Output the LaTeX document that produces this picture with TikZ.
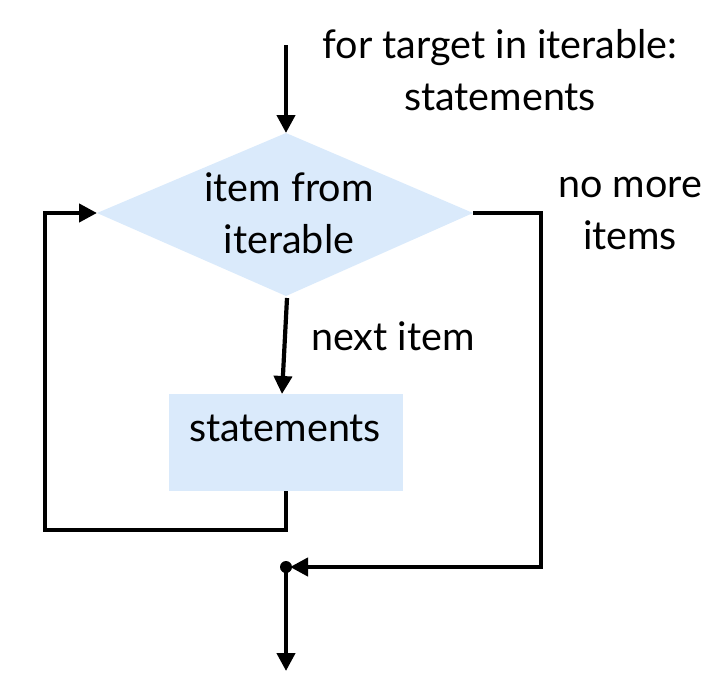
\documentclass[tikz,border=0pt]{standalone}
\usepackage{fontspec}
\setmainfont{Lato}
\usetikzlibrary{arrows.meta,shapes.geometric}
\definecolor{boxblue}{HTML}{DAEAFB}
\tikzset{
  line/.style={line width=4.2pt, line cap=butt, line join=miter},
  arr/.style={line, -{Triangle[length=18pt,width=18pt]}},
  lbl/.style={font=\fontsize{39.5}{52}\selectfont, align=center, inner sep=0pt},
}
\begin{document}
\begin{tikzpicture}[x=1pt,y=-1pt]
\useasboundingbox (0,0) rectangle (728,686);
% diamond
\fill[boxblue] (286,133) -- (473,213) -- (286,296) -- (97,213) -- cycle;
\coordinate (dtop) at (286,133);
\coordinate (dleft) at (97,213);
\coordinate (dright) at (473,213);
\coordinate (dbot) at (287,298);
\node[lbl] (dtext) at (289,213) {item from\\iterable};
% statements box
\fill[boxblue] (169,394) rectangle (403,491);
\coordinate (stop) at (282,394);
\coordinate (sbot) at (286,491);
\node[lbl, anchor=base] (stext) at (285,441) {statements};
% labels
\node[lbl] (code) at (500,70) {for target in iterable:\\statements};
\node[lbl] (nomore) at (630,213) {no more\\items};
\node[lbl, anchor=base] (next) at (393,350) {next item};
% coordinates
\coordinate (start) at (286,45);
\coordinate (la) at (286,530);
\coordinate (lb) at (45,530);
\coordinate (lc) at (45,213);
\coordinate (ra) at (541,213);
\coordinate (rb) at (541,567);
\coordinate (join) at (286,567);
\coordinate (end) at (286,671);
% connectors
\draw[arr] (start) -- (dtop);
\draw[arr] (dbot) -- (stop);
\draw[arr] (sbot) -- (la) -- (lb) -- (lc) -- (dleft);
\draw[arr] (dright) -- (ra) -- (rb) -- ([xshift=4pt]join);
\fill (join) circle (6pt);
\draw[arr] (join) -- (end);
\end{tikzpicture}
\end{document}
